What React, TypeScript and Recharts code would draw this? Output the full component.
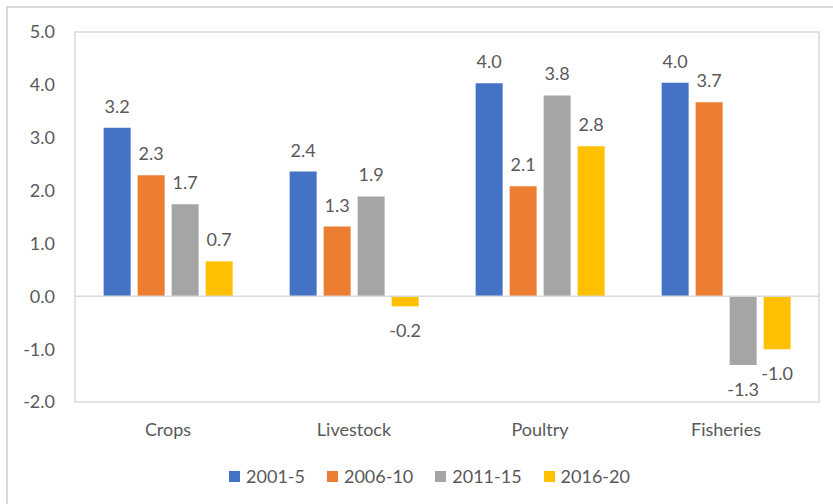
import { BarChart, Bar, XAxis, YAxis, ReferenceLine, ReferenceArea, Legend, LabelList } from 'recharts';

const categories = ['Crops', 'Livestock', 'Poultry', 'Fisheries'];
const series = ['2001-5', '2006-10', '2011-15', '2016-20'];
const p2001 = [3.19, 2.36, 4.03, 4.04];
const p2006 = [2.29, 1.32, 2.08, 3.67];
const p2011 = [1.74, 1.89, 3.8, -1.3];
const p2016 = [0.66, -0.19, 2.84, -1.0];
const yTicks = [-2, -1, 0, 1, 2, 3, 4, 5];

const colors = ['#4472C4', '#ED7D31', '#A5A5A5', '#FFC000'];
const textColor = '#595959';
const borderColor = '#d9d9d9';
const font = 'Lato, sans-serif';

const data = categories.map((name, i) => ({
  name,
  s0: p2001[i],
  s1: p2006[i],
  s2: p2011[i],
  s3: p2016[i],
}));

function BarLabel(props: any) {
  const { x, y, width, height, value } = props;
  const top = Math.min(y, y + height);
  const bottom = Math.max(y, y + height);
  const ty = value >= 0 ? top - 15 : bottom + 31;
  return (
    <text x={x + width / 2} y={ty} textAnchor="middle" fill={textColor} fontSize={18} fontFamily={font}>
      {Number(value).toFixed(1)}
    </text>
  );
}

function LegendContent() {
  return (
    <div style={{ display: 'flex', justifyContent: 'center', paddingLeft: 40, height: 24, lineHeight: '24px', fontFamily: font, fontSize: 18, color: textColor }}>
      {series.map((s, i) => (
        <div key={s} style={{ display: 'flex', alignItems: 'center', marginRight: i < series.length - 1 ? 22 : 0 }}>
          <span style={{ width: 11, height: 11, background: colors[i], marginRight: 6, display: 'inline-block' }} />
          <span>{s}</span>
        </div>
      ))}
    </div>
  );
}

export default function App() {
  return (
    <div style={{ position: 'absolute', left: 0, top: 0, width: 833, height: 504, overflow: 'hidden', background: '#fff' }}>
      <div style={{ position: 'absolute', left: 6, top: 6, width: 900, height: 600, border: `2px solid ${borderColor}` }} />
      <div style={{ position: 'absolute', left: 0, top: 0 }}>
        <BarChart
          width={833}
          height={504}
          data={data}
          margin={{ top: 32, right: 14, left: 0, bottom: 16 }}
          barCategoryGap="15.4%"
          barGap={7}
          style={{ fontFamily: font }}
        >
          <ReferenceArea y1={-2} y2={5} fill="none" stroke={borderColor} strokeWidth={1.5} ifOverflow="visible" />
          <ReferenceLine y={0} stroke={borderColor} strokeWidth={1.5} />
          <XAxis
            dataKey="name"
            axisLine={false}
            tickLine={false}
            tickMargin={15}
            height={62}
            tick={{ fill: textColor, fontSize: 18, fontFamily: font }}
          />
          <YAxis
            domain={[-2, 5]}
            ticks={yTicks}
            width={75}
            axisLine={false}
            tickLine={false}
            tickMargin={14}
            tickFormatter={(v: number) => v.toFixed(1)}
            tick={{ fill: textColor, fontSize: 18, fontFamily: font }}
          />
          <Legend verticalAlign="bottom" content={<LegendContent />} />
          {['s0', 's1', 's2', 's3'].map((k, i) => (
            <Bar key={k} dataKey={k} name={series[i]} fill={colors[i]} isAnimationActive={false}>
              <LabelList dataKey={k} content={<BarLabel />} />
            </Bar>
          ))}
        </BarChart>
      </div>
    </div>
  );
}
